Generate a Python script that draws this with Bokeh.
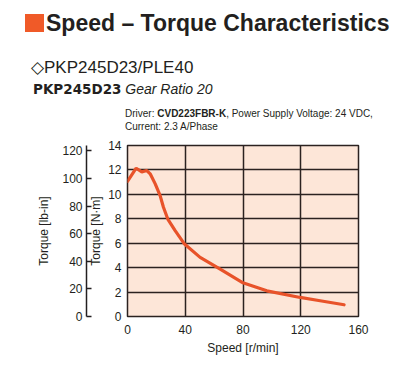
from bokeh.plotting import figure
from bokeh.models import Range1d, LinearAxis, FixedTicker, Div
from bokeh.layouts import column
from bokeh.embed import file_html
from bokeh.resources import INLINE

speed = [0, 6, 9.9, 13.4, 15.7, 19.2, 22.6, 24.9, 27.9, 33, 39.5, 50.3, 64.2, 79.4, 96.5, 119.6, 133.4, 150]
torque_nm = [11.07, 12.14, 11.84, 11.95, 11.68, 10.86, 9.9, 8.94, 7.98, 7.03, 5.93, 4.84, 3.88, 2.79, 2.1, 1.56, 1.29, 0.96]
x_ticks = [0, 40, 80, 120, 160]
y_ticks_nm = [0, 2, 4, 6, 8, 10, 12, 14]
y_ticks_lbin = [0, 20, 40, 60, 80, 100, 120]
NM_TO_LBIN = 8.8507

title_text = "Speed – Torque Characteristics"
model_text = "◇PKP245D23/PLE40"
motor_text = "PKP245D23"
gear_text = "Gear Ratio 20"
driver_text = ["Driver: ", "CVD223FBR-K", ", Power Supply Voltage: 24 VDC,"]
current_text = "Current: 2.3 A/Phase"

FONT = "Liberation Sans"
DARK = "#2b2220"
TXT = "#231f20"
HEAD_H = 135

# ---------- header ----------
def blk(left, baseline, size, inner, extra=""):
    top = baseline - 0.85 * size
    return (f'<div style="position:absolute;left:{left}px;top:{top:.1f}px;font-size:{size}px;'
            f'line-height:{size}px;white-space:nowrap;{extra}">{inner}</div>')

html = (f'<div style="position:relative;width:401px;height:{HEAD_H}px;overflow:hidden;'
        f'font-family:\'{FONT}\',sans-serif;color:{TXT};">'
        f'<div style="position:absolute;left:25px;top:14px;width:19px;height:18px;background:#f05a28;"></div>'
        + blk(46, 32, 23, title_text, "font-weight:bold;")
        + blk(31, 73, 17, model_text)
        + blk(33, 93.5, 14, f'<span style="font-family:\'DejaVu Sans\';font-weight:bold;font-size:13.5px;">{motor_text}</span>'
                          f' <span style="font-style:italic;">{gear_text}</span>')
        + blk(125, 117, 10, f'{driver_text[0]}<b>{driver_text[1]}</b>{driver_text[2]}')
        + blk(125, 130, 10, current_text)
        + '</div>')
header = Div(text=html, width=401, height=HEAD_H, margin=0)

# ---------- chart ----------
p = figure(width=401, height=389 - HEAD_H, output_backend="svg", toolbar_location=None,
           x_range=Range1d(0, 160), y_range=Range1d(0, 14),
           min_border_left=127, min_border_right=43, min_border_top=145 - HEAD_H, min_border_bottom=73)
p.extra_y_ranges = {"lbin": Range1d(0, 14 * NM_TO_LBIN)}
p.background_fill_color = "#fde6d8"
p.border_fill_color = "white"
p.outline_line_color = DARK
p.outline_line_width = 1.5

p.line(speed, torque_nm, line_color="#e8532a", line_width=3.2, line_cap="round")

for ax in (p.xaxis[0], p.yaxis[0]):
    ax.major_tick_line_color = None
    ax.minor_tick_line_color = None
    ax.axis_line_color = None
    ax.major_label_text_font = FONT
    ax.major_label_text_font_size = "12px"
    ax.major_label_text_color = TXT
    ax.axis_label_text_font = FONT
    ax.axis_label_text_font_size = "12px"
    ax.axis_label_text_font_style = "normal"
    ax.axis_label_text_color = TXT
p.xaxis[0].ticker = FixedTicker(ticks=x_ticks)
p.yaxis[0].ticker = FixedTicker(ticks=y_ticks_nm)
p.xaxis[0].axis_label = "Speed [r/min]"
p.yaxis[0].axis_label = "Torque [N·m]"
p.xaxis[0].major_label_standoff = 2
p.yaxis[0].major_label_standoff = 0
p.xaxis[0].axis_label_standoff = 4
p.yaxis[0].axis_label_standoff = 2

ax2 = LinearAxis(y_range_name="lbin", ticker=FixedTicker(ticks=y_ticks_lbin),
                 axis_label="Torque [lb-in]")
ax2.major_tick_in = 5
ax2.major_tick_out = 0
ax2.minor_tick_line_color = None
ax2.axis_line_color = TXT
ax2.axis_line_width = 1.5
ax2.major_tick_line_color = TXT
ax2.major_tick_line_width = 1.5
ax2.major_label_text_font = FONT
ax2.major_label_text_font_size = "12px"
ax2.major_label_text_color = TXT
ax2.major_label_standoff = 4
ax2.axis_label_text_font = FONT
ax2.axis_label_text_font_size = "12px"
ax2.axis_label_text_font_style = "normal"
ax2.axis_label_text_color = TXT
ax2.axis_label_standoff = 8
p.add_layout(ax2, "left")

p.grid.grid_line_color = DARK
p.grid.grid_line_width = 1.5
p.xgrid.ticker = FixedTicker(ticks=x_ticks)
p.ygrid.ticker = FixedTicker(ticks=y_ticks_nm)

layout = column(header, p, spacing=0)
open("out.html", "w").write(file_html(layout, INLINE))
